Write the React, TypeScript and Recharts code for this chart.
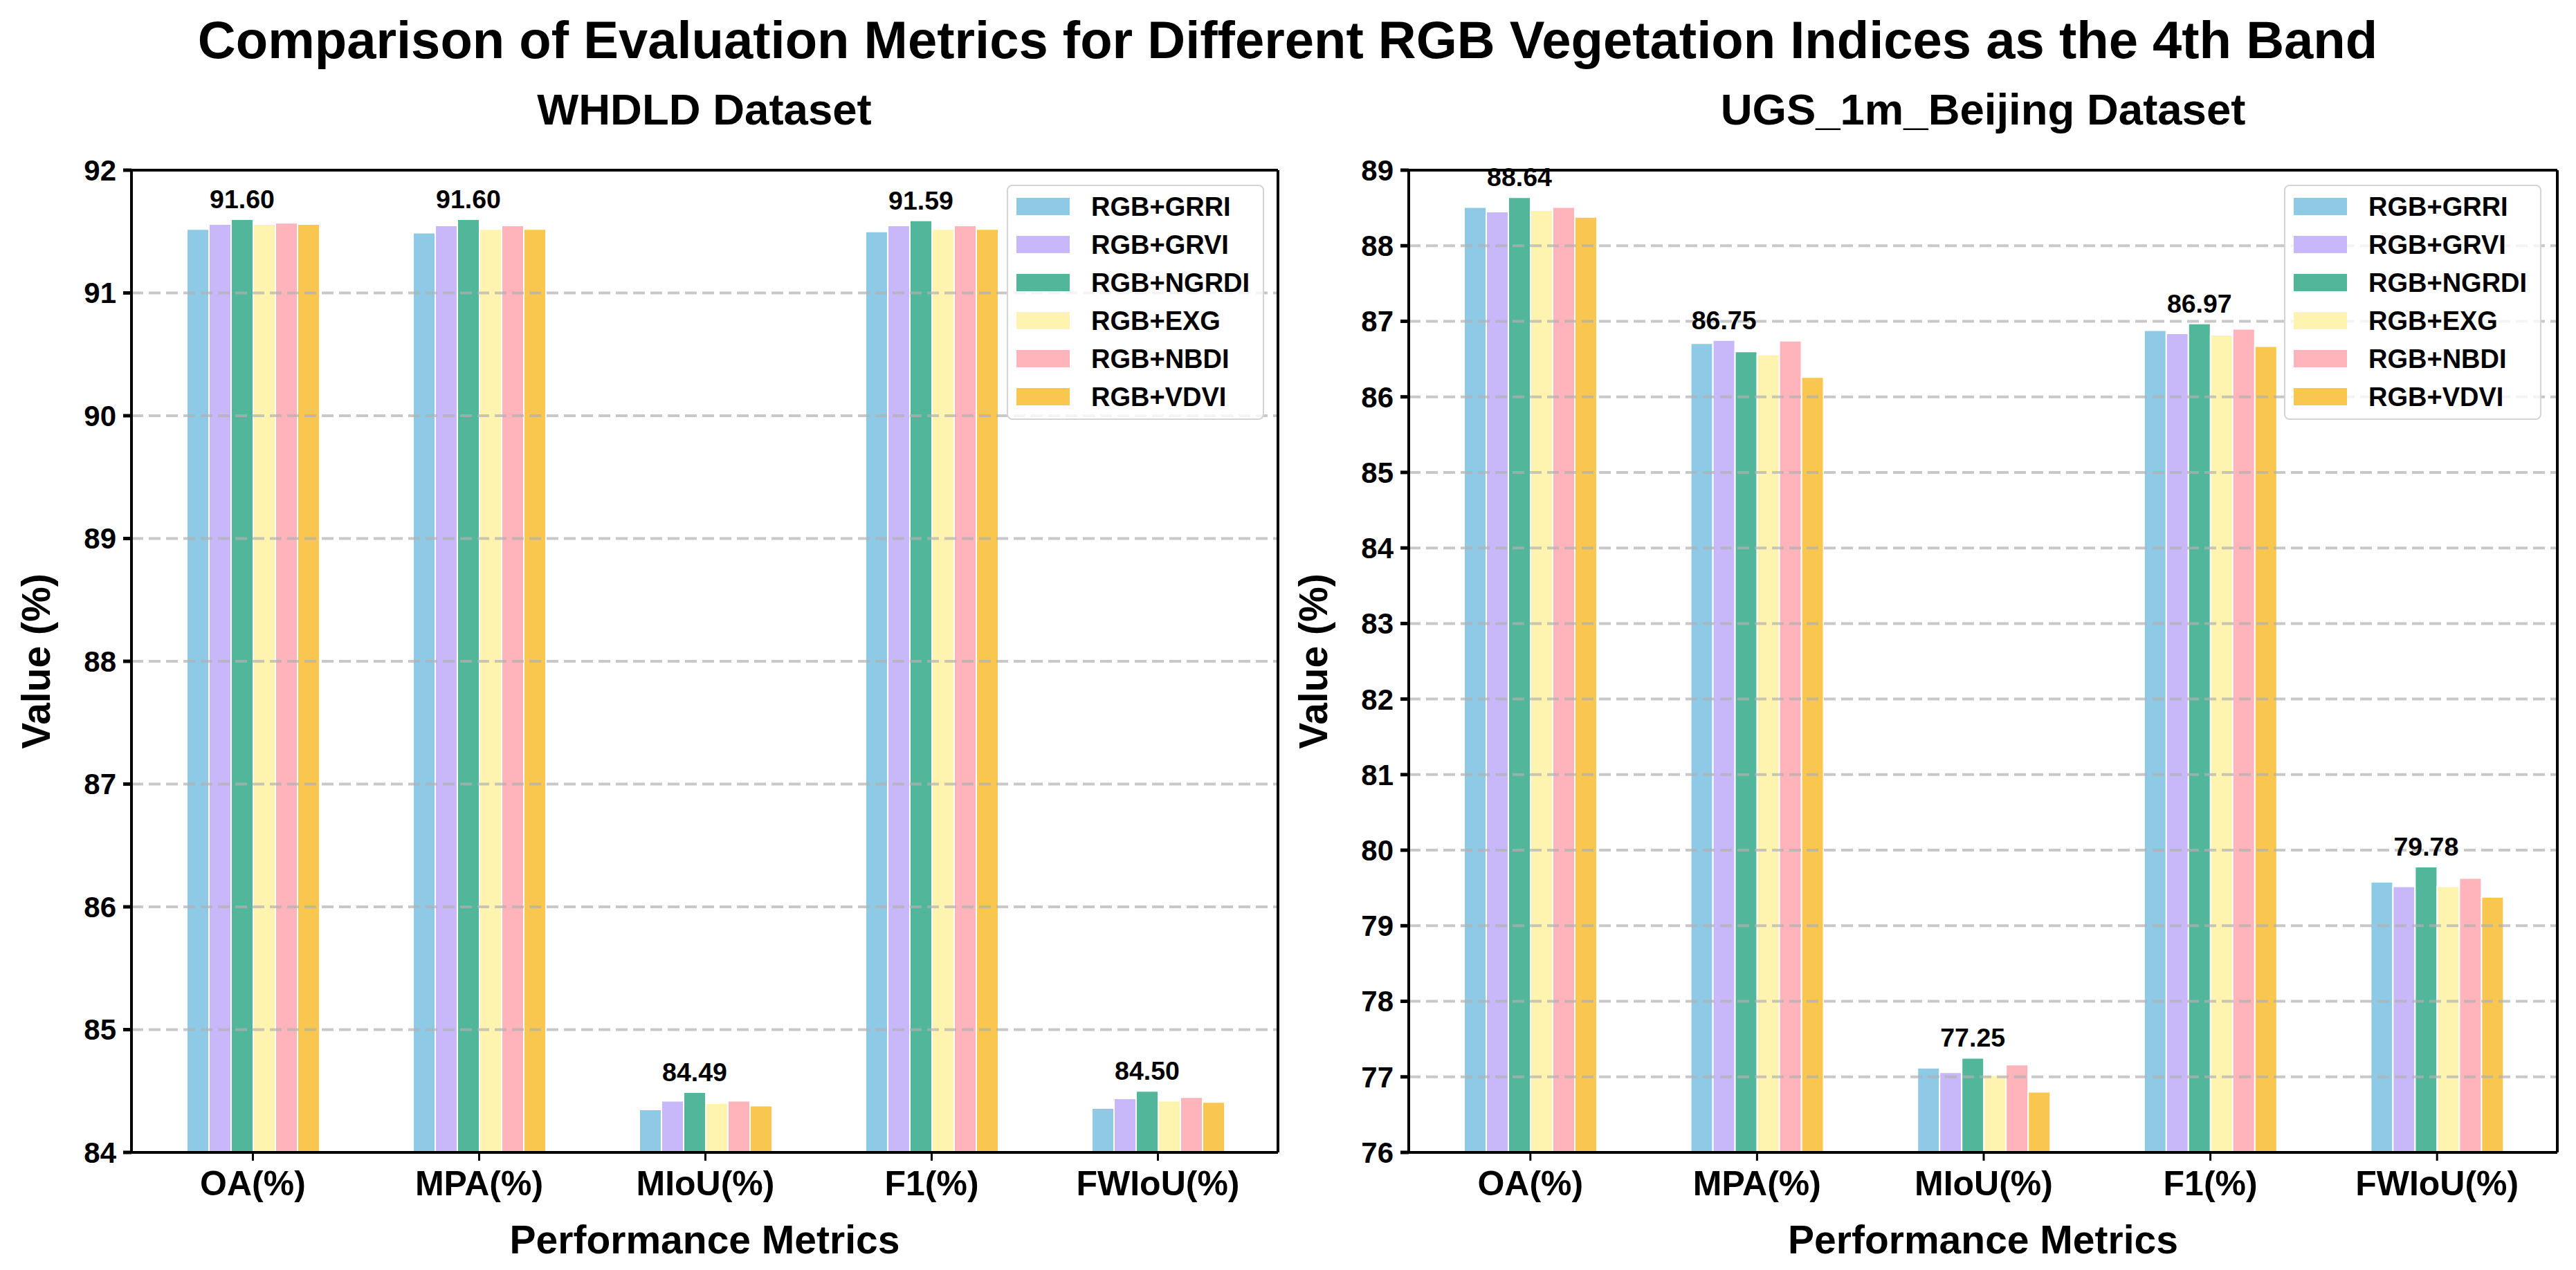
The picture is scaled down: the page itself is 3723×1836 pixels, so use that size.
import { BarChart, Bar, XAxis, YAxis, ReferenceLine, Legend, LabelList } from 'recharts'

const FONT = "'Liberation Sans', Arial, sans-serif"

const metrics = ['OA(%)', 'MPA(%)', 'MIoU(%)', 'F1(%)', 'FWIoU(%)']
const seriesNames = ['RGB+GRRI', 'RGB+GRVI', 'RGB+NGRDI', 'RGB+EXG', 'RGB+NBDI', 'RGB+VDVI']
const seriesColors = ['#8ECAE6', '#C8B8FA', '#52B69A', '#FFF3B0', '#FFB3BA', '#F9C74F']

// WHDLD dataset, one array per index, in metric order
const whdldGRRI = [91.52, 91.49, 84.35, 91.5, 84.36]
const whdldGRVI = [91.56, 91.55, 84.42, 91.55, 84.44]
const whdldNGRDI = [91.6, 91.6, 84.49, 91.59, 84.5]
const whdldEXG = [91.56, 91.52, 84.4, 91.52, 84.42]
const whdldNBDI = [91.57, 91.55, 84.42, 91.55, 84.45]
const whdldVDVI = [91.56, 91.52, 84.38, 91.52, 84.41]

// UGS_1m_Beijing dataset
const ugsGRRI = [88.51, 86.71, 77.12, 86.88, 79.58]
const ugsGRVI = [88.45, 86.75, 77.06, 86.84, 79.52]
const ugsNGRDI = [88.64, 86.6, 77.25, 86.97, 79.78]
const ugsEXG = [88.47, 86.56, 77.02, 86.82, 79.52]
const ugsNBDI = [88.51, 86.74, 77.16, 86.9, 79.63]
const ugsVDVI = [88.38, 86.26, 76.8, 86.67, 79.38]

const whdldTicks = [84, 85, 86, 87, 88, 89, 90, 91, 92]
const ugsTicks = [76, 77, 78, 79, 80, 81, 82, 83, 84, 85, 86, 87, 88, 89]

function buildRows(cols: number[][]) {
  return metrics.map((m, i) => {
    const row: Record<string, string | number> = { metric: m }
    seriesNames.forEach((s, j) => { row[s] = cols[j][i] })
    return row
  })
}

const whdldRows = buildRows([whdldGRRI, whdldGRVI, whdldNGRDI, whdldEXG, whdldNBDI, whdldVDVI])
const ugsRows = buildRows([ugsGRRI, ugsGRVI, ugsNGRDI, ugsEXG, ugsNBDI, ugsVDVI])

// only the best index of each metric gets its value printed
function bestLabel(rows: Record<string, string | number>[], key: string) {
  return (props: any) => {
    const { x, y, width, index, value } = props
    const row = rows[index]
    const best = seriesNames.reduce((a, b) => ((row[b] as number) > (row[a] as number) ? b : a))
    if (best !== key) return null
    return (
      <text
        x={Number(x) + Number(width) / 2}
        y={Number(y) - 16}
        textAnchor="middle"
        fontFamily={FONT}
        fontWeight="bold"
        fontSize={37.5}
        fill="#000"
      >
        {Number(value).toFixed(2)}
      </text>
    )
  }
}

function LegendBox() {
  return (
    <div
      style={{
        width: 372, height: 340, boxSizing: 'border-box',
        border: '2px solid #d4d4d4', borderRadius: 8,
        background: 'rgba(255,255,255,0.8)',
        paddingTop: 2, fontFamily: FONT,
      }}
    >
      {seriesNames.map((s, i) => (
        <div key={s} style={{ display: 'flex', alignItems: 'center', height: 55, paddingLeft: 12 }}>
          <span style={{ width: 77, height: 25, background: seriesColors[i], display: 'inline-block' }} />
          <span style={{ marginLeft: 31, fontSize: 38, fontWeight: 'bold', color: '#000', lineHeight: 1 }}>{s}</span>
        </div>
      ))}
    </div>
  )
}

const yTitle = ({ viewBox }: any) => {
  const cx = viewBox.x + viewBox.width - 118
  const cy = viewBox.y + viewBox.height / 2
  return (
    <text x={cx} y={cy} transform={`rotate(-90 ${cx} ${cy})`} textAnchor="middle"
      fontFamily={FONT} fontWeight="bold" fontSize={57} fill="#000">
      Value (%)
    </text>
  )
}

const xTitle = ({ viewBox }: any) => (
  <text x={viewBox.x + viewBox.width / 2} y={viewBox.y + 146} textAnchor="middle"
    fontFamily={FONT} fontWeight="bold" fontSize={57} fill="#000">
    Performance Metrics
  </text>
)

interface PanelProps {
  rows: Record<string, string | number>[]
  ticks: number[]
  left: number
  width: number
  yAxisWidth: number
  rightMargin: number
  legendLeft: number
}

function Panel({ rows, ticks, left, width, yAxisWidth, rightMargin, legendLeft }: PanelProps) {
  const domain = [ticks[0], ticks[ticks.length - 1]]
  return (
    <div style={{ position: 'absolute', left, top: 0 }}>
      <BarChart
        width={width}
        height={1836}
        data={rows}
        margin={{ top: 245, right: rightMargin, bottom: 20, left: 0 }}
        barGap={0}
      >
        <XAxis
          dataKey="metric"
          interval={0}
          height={150}
          padding={{ left: 12, right: 10 }}
          tickSize={12}
          tickMargin={14}
          tick={{ fontSize: 50, fontWeight: 'bold', fill: '#000', fontFamily: FONT }}
          tickLine={{ stroke: '#000', strokeWidth: 3 }}
          axisLine={{ stroke: '#000', strokeWidth: 4 }}
          label={xTitle}
        />
        {/* top and right spines */}
        <XAxis
          xAxisId="top"
          orientation="top"
          dataKey="metric"
          height={1}
          tick={false}
          tickLine={false}
          axisLine={{ stroke: '#000', strokeWidth: 4 }}
        />
        <YAxis
          type="number"
          domain={domain}
          ticks={ticks}
          interval={0}
          width={yAxisWidth}
          tickSize={12}
          tickMargin={10}
          tick={{ fontSize: 42, fontWeight: 'bold', fill: '#000', fontFamily: FONT }}
          tickLine={{ stroke: '#000', strokeWidth: 5 }}
          axisLine={{ stroke: '#000', strokeWidth: 4 }}
          label={yTitle}
        />
        <YAxis
          yAxisId="right"
          orientation="right"
          type="number"
          domain={domain}
          width={1}
          tick={false}
          tickLine={false}
          axisLine={{ stroke: '#000', strokeWidth: 4 }}
        />
        {seriesNames.map((s, i) => (
          <Bar
            key={s}
            dataKey={s}
            fill={seriesColors[i]}
            stroke="#fff"
            strokeWidth={2}
            barSize={32}
            isAnimationActive={false}
          >
            <LabelList dataKey={s} content={bestLabel(rows, s)} />
          </Bar>
        ))}
        {ticks.slice(1, -1).map((t) => (
          <ReferenceLine
            key={t}
            y={t}
            stroke="#b0b0b0"
            strokeOpacity={0.7}
            strokeWidth={4}
            strokeDasharray="17 8"
          />
        ))}
        <Legend
          layout="vertical"
          align="center"
          verticalAlign="middle"
          wrapperStyle={{ left: legendLeft, top: 267, width: 372, height: 340 }}
          content={() => <LegendBox />}
        />
      </BarChart>
    </div>
  )
}

export default function App() {
  return (
    <div style={{ position: 'absolute', left: 0, top: 0, width: 3723, height: 1836, background: '#fff', fontFamily: FONT }}>
      <svg width={3723} height={240} style={{ position: 'absolute', left: 0, top: 0 }}>
        <text x={1861} y={84} textAnchor="middle" fontFamily={FONT} fontWeight="bold" fontSize={76} fill="#000">
          Comparison of Evaluation Metrics for Different RGB Vegetation Indices as the 4th Band
        </text>
        <text x={1018} y={180} textAnchor="middle" fontFamily={FONT} fontWeight="bold" fontSize={63.5} fill="#000">
          WHDLD Dataset
        </text>
        <text x={2866} y={180} textAnchor="middle" fontFamily={FONT} fontWeight="bold" fontSize={63.5} fill="#000">
          UGS_1m_Beijing Dataset
        </text>
      </svg>
      <Panel rows={whdldRows} ticks={whdldTicks} left={0} width={1900} yAxisWidth={190} rightMargin={52} legendLeft={1455} />
      <Panel rows={ugsRows} ticks={ugsTicks} left={1840} width={1883} yAxisWidth={196} rightMargin={26} legendLeft={1461} />
    </div>
  )
}
